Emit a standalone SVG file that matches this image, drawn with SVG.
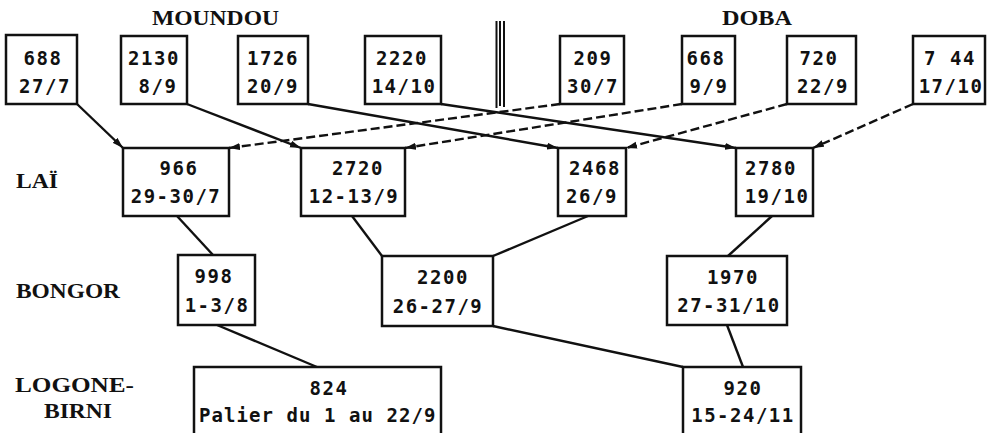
<svg xmlns="http://www.w3.org/2000/svg" width="988" height="433" viewBox="0 0 988 433">
  <style>
    .box { fill: #ffffff; stroke: #111111; stroke-width: 2.5; }
    .num { font-family: "DejaVu Sans Mono", "Liberation Mono", monospace; font-weight: bold; font-size: 19px; fill: #111111; text-anchor: middle; letter-spacing: 1.5px; }
    .place { font-family: "Liberation Serif", "DejaVu Serif", serif; font-weight: bold; font-size: 20px; fill: #111111; }
    .link { fill: none; stroke: #111111; stroke-width: 2.4; }
    .dash { stroke-dasharray: 9 4; }
    .sep { stroke: #111111; stroke-width: 2; }
  </style>
  <defs>
    <marker id="arrow" markerUnits="userSpaceOnUse" markerWidth="12" markerHeight="8" refX="11" refY="4" orient="auto">
      <path d="M0,0.5 L11,4 L0,7.5 z" fill="#111111"/>
    </marker>
  </defs>

  <!-- place names -->
  <g id="labels">
    <text class="place" x="152" y="25" textLength="127" lengthAdjust="spacingAndGlyphs" font-size="21">MOUNDOU</text>
    <text class="place" x="722" y="25" textLength="70" lengthAdjust="spacingAndGlyphs" font-size="21">DOBA</text>
    <text class="place" x="16" y="188" textLength="42" lengthAdjust="spacingAndGlyphs">LAÏ</text>
    <text class="place" x="16" y="298" textLength="104" lengthAdjust="spacingAndGlyphs">BONGOR</text>
    <text class="place" x="15" y="392" textLength="119" lengthAdjust="spacingAndGlyphs">LOGONE-</text>
    <text class="place" x="44" y="418" textLength="68" lengthAdjust="spacingAndGlyphs">BIRNI</text>
  </g>

  <!-- triple separator between the two source areas -->
  <g id="separator">
    <line class="sep" x1="496.5" y1="21" x2="496.5" y2="108" stroke-width="3"/>
    <line class="sep" x1="500" y1="21" x2="500" y2="106"/>
    <line class="sep" x1="504" y1="21" x2="504" y2="107" stroke-width="2.6"/>
  </g>

  <!-- connectors -->
  <g id="connectors">
    <line class="link" x1="77" y1="104" x2="123" y2="148" marker-end="url(#arrow)"/>
    <line class="link" x1="187" y1="104" x2="301" y2="148" marker-end="url(#arrow)"/>
    <line class="link" x1="308" y1="104" x2="558" y2="148" marker-end="url(#arrow)"/>
    <line class="link" x1="441" y1="104" x2="736" y2="148" marker-end="url(#arrow)"/>
    <line class="link dash" x1="560" y1="104" x2="229" y2="148" marker-end="url(#arrow)"/>
    <line class="link dash" x1="682" y1="104" x2="405" y2="148" marker-end="url(#arrow)"/>
    <line class="link dash" x1="787" y1="104" x2="626" y2="148" marker-end="url(#arrow)"/>
    <line class="link dash" x1="913" y1="104" x2="813" y2="148" marker-end="url(#arrow)"/>
    <line class="link" x1="177" y1="216" x2="213" y2="255"/>
    <line class="link" x1="352" y1="216" x2="382" y2="256"/>
    <line class="link" x1="588" y1="216" x2="493" y2="256"/>
    <line class="link" x1="772" y1="216" x2="728" y2="256"/>
    <line class="link" x1="217" y1="325" x2="317" y2="367"/>
    <line class="link" x1="493" y1="326" x2="683" y2="367"/>
    <line class="link" x1="727" y1="325" x2="743" y2="367"/>
  </g>

  <!-- Moundou sources -->
  <g id="n688"><rect class="box" x="6" y="35" width="71" height="69"/>
    <text class="num" x="43" y="65">688</text><text class="num" x="45" y="93">27/7</text></g>
  <g id="n2130"><rect class="box" x="121" y="36" width="66" height="68"/>
    <text class="num" x="154" y="65">2130</text><text class="num" x="158" y="93">8/9</text></g>
  <g id="n1726"><rect class="box" x="238" y="36" width="70" height="68"/>
    <text class="num" x="273" y="65">1726</text><text class="num" x="273" y="93">20/9</text></g>
  <g id="n2220"><rect class="box" x="365" y="36" width="76" height="68"/>
    <text class="num" x="402" y="65">2220</text><text class="num" x="404" y="93">14/10</text></g>

  <!-- Doba sources -->
  <g id="n209"><rect class="box" x="560" y="36" width="64" height="68"/>
    <text class="num" x="593" y="65">209</text><text class="num" x="593" y="93">30/7</text></g>
  <g id="n668"><rect class="box" x="682" y="36" width="53" height="68"/>
    <text class="num" x="706" y="65">668</text><text class="num" x="709" y="93">9/9</text></g>
  <g id="n720"><rect class="box" x="787" y="36" width="69" height="68"/>
    <text class="num" x="819" y="65">720</text><text class="num" x="823" y="93">22/9</text></g>
  <g id="n744"><rect class="box" x="913" y="36" width="72" height="68"/>
    <text class="num" x="950" y="65">7 44</text><text class="num" x="951" y="93">17/10</text></g>

  <!-- Laï -->
  <g id="n966"><rect class="box" x="123" y="148" width="106" height="68"/>
    <text class="num" x="179" y="175">966</text><text class="num" x="176" y="203">29-30/7</text></g>
  <g id="n2720"><rect class="box" x="301" y="148" width="104" height="68"/>
    <text class="num" x="358" y="175">2720</text><text class="num" x="354" y="203">12-13/9</text></g>
  <g id="n2468"><rect class="box" x="558" y="148" width="68" height="68"/>
    <text class="num" x="595" y="175">2468</text><text class="num" x="592" y="203">26/9</text></g>
  <g id="n2780"><rect class="box" x="736" y="148" width="77" height="68"/>
    <text class="num" x="771" y="175">2780</text><text class="num" x="777" y="203">19/10</text></g>

  <!-- Bongor -->
  <g id="n998"><rect class="box" x="178" y="255" width="77" height="70"/>
    <text class="num" x="214" y="283">998</text><text class="num" x="217" y="312">1-3/8</text></g>
  <g id="n2200"><rect class="box" x="382" y="256" width="111" height="70"/>
    <text class="num" x="443" y="284">2200</text><text class="num" x="438" y="313">26-27/9</text></g>
  <g id="n1970"><rect class="box" x="667" y="256" width="120" height="69"/>
    <text class="num" x="733" y="284">1970</text><text class="num" x="729" y="312">27-31/10</text></g>

  <!-- Logone-Birni -->
  <g id="n824"><rect class="box" x="194" y="367" width="247" height="80"/>
    <text class="num" x="329" y="395">824</text>
    <text class="num" x="318" y="422" textLength="238" lengthAdjust="spacing" letter-spacing="0">Palier du 1 au 22/9</text></g>
  <g id="n920"><rect class="box" x="683" y="367" width="118" height="80"/>
    <text class="num" x="743" y="395">920</text><text class="num" x="743" y="422">15-24/11</text></g>
</svg>
